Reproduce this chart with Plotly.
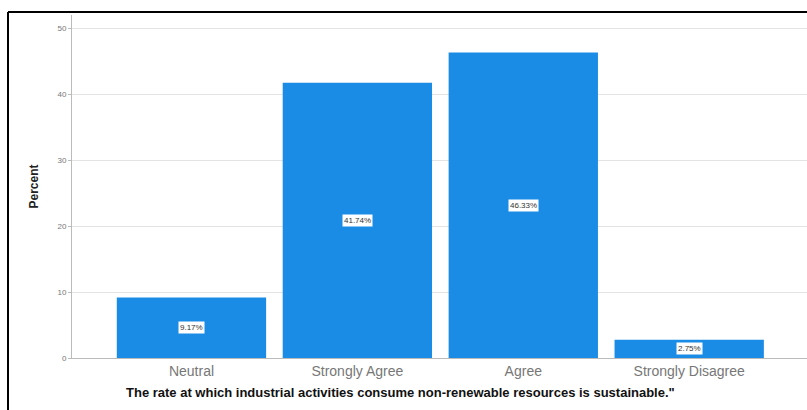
import plotly.graph_objects as go

categories = ["Neutral", "Strongly Agree", "Agree", "Strongly Disagree"]
percents = [9.17, 41.74, 46.33, 2.75]
y_ticks = [0, 10, 20, 30, 40, 50]
x_title = "The rate at which industrial activities consume non-renewable resources is sustainable.\""
y_title = "Percent"

W, H = 807, 410
L, R, T, B = 72, 0, 15, 52

fig = go.Figure()
fig.add_trace(go.Bar(
    x=categories, y=percents,
    marker=dict(color="#1a8ce5", line=dict(width=0)),
    hoverinfo="skip",
))

for c, v in zip(categories, percents):
    fig.add_annotation(
        x=c, y=v / 2, text=f"{v:.2f}%", showarrow=False,
        font=dict(family="Liberation Sans, Arial", size=8, color="#333333"),
        bgcolor="white", borderpad=1,
    )

pw = W - L - R
ph = H - T - B

# x-axis title placed as paper annotation (centred slightly left of plot centre)
fig.add_annotation(
    xref="paper", yref="paper", x=(400 - L) / pw, y=(H - B - 392) / ph,
    xanchor="center", yanchor="middle", showarrow=False,
    text=f"<b>{x_title}</b>",
    font=dict(family="Liberation Sans, Arial", size=13, color="#111111"),
)

fig.add_shape(type="line", xref="paper", yref="paper",
              x0=(8 - L) / pw, x1=1.2, y0=(H - B - 12) / ph, y1=(H - B - 12) / ph,
              line=dict(color="black", width=2))
fig.add_shape(type="line", xref="paper", yref="paper",
              x0=(8 - L) / pw, x1=(8 - L) / pw, y0=(H - B - 12) / ph, y1=-0.3,
              line=dict(color="black", width=2))

fig.update_layout(
    width=W, height=H,
    margin=dict(l=L, r=R, t=T, b=B),
    paper_bgcolor="white", plot_bgcolor="white",
    bargap=0.1, showlegend=False,
    xaxis=dict(
        range=[-0.72, 3.71], showgrid=False,
        showline=True, linecolor="#bbbbbb", linewidth=1,
        tickfont=dict(family="Liberation Sans, Arial", size=14, color="#777777"),
        ticks="",
    ),
    yaxis=dict(
        range=[0, 52], tickvals=y_ticks,
        showgrid=True, gridcolor="#e3e3e3", gridwidth=1,
        showline=True, linecolor="#bbbbbb", linewidth=1,
        ticks="outside", ticklen=3, tickcolor="#bbbbbb",
        tickfont=dict(family="Liberation Sans, Arial", size=8, color="#777777"),
        title=dict(text=f"<b>{y_title}</b>", standoff=16,
                   font=dict(family="Liberation Sans, Arial", size=12, color="#222222")),
        zeroline=False,
    ),
)

fig.write_html("out.html")
